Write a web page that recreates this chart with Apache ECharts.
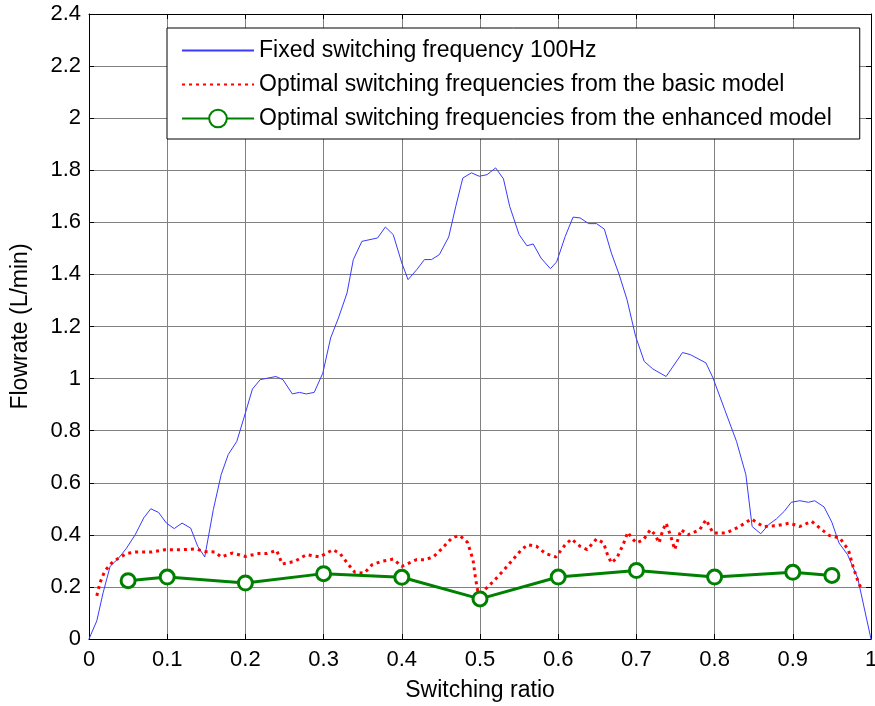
<!DOCTYPE html>
<html>
<head>
<meta charset="utf-8">
<script src="https://cdn.jsdelivr.net/npm/echarts@6/dist/echarts.min.js"></script>
<style>html,body{margin:0;padding:0;background:#fff}#c{width:875px;height:706px}</style>
</head>
<body>
<div id="c"></div>
<script>
const blueX = [0,0.01,0.018,0.027,0.038,0.048,0.059,0.07,0.079,0.089,0.099,0.109,0.119,0.13,0.139,0.148,0.159,0.169,0.178,0.189,0.2,0.209,0.219,0.239,0.248,0.26,0.269,0.278,0.288,0.299,0.309,0.319,0.33,0.338,0.349,0.369,0.379,0.389,0.4,0.408,0.419,0.429,0.438,0.448,0.46,0.469,0.478,0.489,0.499,0.509,0.52,0.53,0.538,0.55,0.56,0.568,0.578,0.59,0.598,0.609,0.619,0.628,0.639,0.649,0.659,0.668,0.678,0.688,0.699,0.71,0.721,0.738,0.759,0.769,0.789,0.798,0.813,0.828,0.84,0.848,0.859,0.869,0.879,0.889,0.898,0.909,0.92,0.928,0.94,0.95,0.959,0.97,0.983,1.0];
const blueY = [0,0.07,0.177,0.279,0.311,0.349,0.40,0.465,0.50,0.486,0.445,0.424,0.445,0.426,0.356,0.315,0.497,0.631,0.708,0.759,0.868,0.96,0.996,1.008,0.996,0.941,0.947,0.941,0.947,1.021,1.156,1.233,1.329,1.457,1.527,1.54,1.582,1.553,1.444,1.38,1.418,1.457,1.457,1.476,1.544,1.661,1.77,1.79,1.777,1.783,1.809,1.767,1.661,1.553,1.51,1.517,1.463,1.422,1.448,1.546,1.62,1.617,1.595,1.595,1.574,1.482,1.399,1.303,1.162,1.066,1.037,1.008,1.10,1.092,1.06,1.002,0.88,0.759,0.631,0.432,0.404,0.439,0.461,0.49,0.525,0.531,0.525,0.531,0.507,0.448,0.369,0.324,0.234,0.0];

const redX = [0.01,0.014,0.02,0.029,0.038,0.048,0.059,0.08,0.097,0.119,0.136,0.148,0.161,0.169,0.183,0.2,0.217,0.227,0.24,0.247,0.263,0.278,0.295,0.312,0.321,0.332,0.34,0.352,0.362,0.374,0.389,0.4,0.419,0.43,0.441,0.451,0.464,0.474,0.484,0.491,0.494,0.496,0.499,0.506,0.517,0.53,0.542,0.553,0.561,0.572,0.584,0.597,0.609,0.617,0.628,0.637,0.649,0.658,0.663,0.668,0.675,0.683,0.689,0.694,0.7,0.709,0.718,0.724,0.729,0.734,0.738,0.744,0.749,0.757,0.766,0.781,0.789,0.798,0.815,0.832,0.847,0.862,0.879,0.896,0.909,0.924,0.937,0.947,0.96,0.971,0.977,0.984,0.988];
const redY = [0.166,0.215,0.26,0.292,0.311,0.328,0.334,0.334,0.343,0.343,0.346,0.336,0.334,0.315,0.33,0.317,0.328,0.328,0.34,0.288,0.298,0.324,0.315,0.343,0.328,0.285,0.256,0.253,0.285,0.298,0.307,0.279,0.305,0.304,0.317,0.346,0.388,0.398,0.371,0.305,0.24,0.202,0.157,0.189,0.221,0.263,0.305,0.343,0.362,0.356,0.328,0.315,0.362,0.384,0.356,0.343,0.384,0.369,0.324,0.292,0.311,0.362,0.41,0.388,0.369,0.381,0.42,0.40,0.369,0.42,0.445,0.394,0.343,0.42,0.40,0.42,0.458,0.407,0.407,0.432,0.461,0.432,0.435,0.445,0.432,0.452,0.42,0.397,0.388,0.343,0.279,0.215,0.192];

const greenX = [0.05,0.1,0.2,0.3,0.4,0.5,0.6,0.7,0.8,0.9,0.95];
const greenY = [0.224,0.238,0.215,0.251,0.237,0.154,0.238,0.263,0.238,0.256,0.244];

const seriesNames = [
  'Fixed switching frequency 100Hz',
  'Optimal switching frequencies from the basic model',
  'Optimal switching frequencies from the enhanced model'
];

const zip = (xs, ys) => xs.map((x, i) => [x, ys[i]]);
const FONT = 'Liberation Sans, Arial, sans-serif';

const chart = echarts.init(document.getElementById('c'), null, {renderer: 'canvas'});
const axisCommon = {
  axisLine: {show: true, onZero: false, lineStyle: {color: '#000', width: 1}},
  axisTick: {show: true, inside: true, length: 5, lineStyle: {color: '#000'}},
  splitLine: {show: false}
};
chart.setOption({
  animation: false,
  backgroundColor: '#fff',
  grid: {left: 89, top: 14, right: 4, bottom: 67, containLabel: false, outerBoundsMode: 'none'},
  legend: {
    orient: 'vertical',
    left: 167, top: 28,
    padding: [11, 28, 9, 14],
    itemWidth: 72, itemHeight: 22, itemGap: 11,
    borderColor: '#000', borderWidth: 1,
    backgroundColor: '#fff',
    textStyle: {fontFamily: FONT, fontSize: 23, color: '#000'},
    data: [
      {name: seriesNames[0], itemStyle: {opacity: 0}},
      {name: seriesNames[1], itemStyle: {opacity: 0}},
      {name: seriesNames[2]}
    ]
  },
  xAxis: [
    Object.assign({}, axisCommon, {
      type: 'value', min: 0, max: 1, interval: 0.1, position: 'bottom',
      name: 'Switching ratio', nameLocation: 'middle', nameGap: 40,
      nameTextStyle: {fontFamily: FONT, fontSize: 23, color: '#000'},
      axisLabel: {fontFamily: FONT, fontSize: 22, color: '#000', margin: 10},
      splitLine: {show: true, lineStyle: {color: '#808080', width: 1}}
    }),
    Object.assign({}, axisCommon, {
      type: 'value', min: 0, max: 1, interval: 0.1, position: 'top',
      axisLabel: {show: false}
    })
  ],
  yAxis: [
    Object.assign({}, axisCommon, {
      type: 'value', min: 0, max: 2.4, interval: 0.2, position: 'left',
      name: 'Flowrate (L/min)', nameLocation: 'middle', nameGap: 57,
      nameTextStyle: {fontFamily: FONT, fontSize: 23, color: '#000'},
      axisLabel: {fontFamily: FONT, fontSize: 22, color: '#000', margin: 8},
      splitLine: {show: true, lineStyle: {color: '#808080', width: 1}}
    }),
    Object.assign({}, axisCommon, {
      type: 'value', min: 0, max: 2.4, interval: 0.2, position: 'right',
      axisLabel: {show: false}
    })
  ],
  series: [
    {
      name: seriesNames[0], type: 'line', data: zip(blueX, blueY),
      symbol: 'none', color: '#3a3aff',
      lineStyle: {color: '#3a3aff', width: 1}
    },
    {
      name: seriesNames[1], type: 'line', data: zip(redX, redY),
      symbol: 'none', color: '#ff0000',
      lineStyle: {color: '#ff0000', width: 3, type: [3, 4]}
    },
    {
      name: seriesNames[2], type: 'line', data: zip(greenX, greenY),
      symbol: 'circle', symbolSize: 14, color: '#008000',
      itemStyle: {color: '#fff', borderColor: '#008000', borderWidth: 3},
      lineStyle: {color: '#008000', width: 3}
    }
  ]
});
</script>
</body>
</html>
